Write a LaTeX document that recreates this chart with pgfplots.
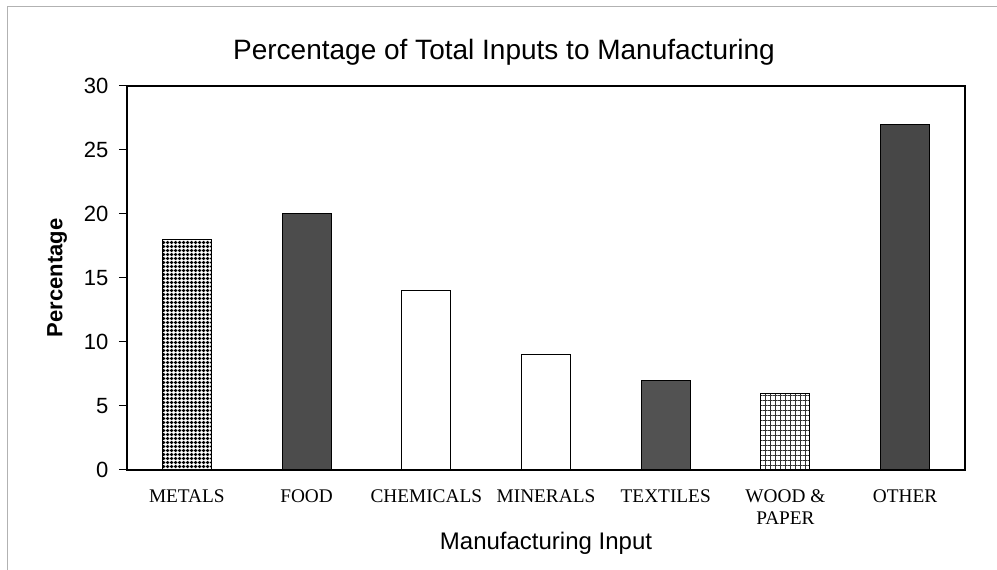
\documentclass[border=0pt]{standalone}
\usepackage{pgfplots}
\pgfplotsset{compat=1.18}
\usepackage{fontspec}
\setmainfont{Liberation Sans}
\newfontfamily\catfont{Liberation Serif}
\usetikzlibrary{patterns.meta}

\pgfplotsset{
  onebar/.style={bar shift=0pt, draw=black, line width=1pt},
}

\begin{document}
\begin{tikzpicture}
\useasboundingbox (0pt,0pt) rectangle (997pt,570pt);
% scan frame
\draw[gray!60, line width=0.8pt] (7pt,0pt) -- (7pt,564pt) -- (997pt,564pt);

\begin{axis}[
  at={(127pt,100pt)}, anchor=south west,
  width=838pt, height=384pt, scale only axis,
  ybar, bar width=0.41,
  xmin=-0.5, xmax=6.5, ymin=0, ymax=30,
  ytick={0,5,10,15,20,25,30},
  xtick={0,1,2,3,4,5,6},
  xticklabels={METALS,FOOD,CHEMICALS,MINERALS,TEXTILES,{WOOD \&\\PAPER},OTHER},
  xticklabel style={font=\catfont\fontsize{19.3}{22}\selectfont, align=center,
    anchor=north, yshift=-8pt},
  x tick style={draw=none},
  ytick pos=left,
  tick align=outside,
  major tick length=8pt,
  y tick style={line width=1pt, black},
  yticklabel style={font=\fontsize{22}{24}\selectfont, xshift=-7pt},
  /pgf/number format/assume math mode=true,
  axis line style={line width=1.2pt},
  title={Percentage of Total Inputs to Manufacturing},
  title style={font=\fontsize{28}{31}\selectfont, yshift=11pt, xshift=-42pt},
  xlabel={Manufacturing Input},
  xlabel style={font=\fontsize{24}{26}\selectfont, yshift=-1pt},
  ylabel={Percentage},
  ylabel style={font=\bfseries\fontsize{22}{24}\selectfont, yshift=10pt},
]
% METALS
\addplot[onebar, fill=white,
  postaction={pattern={Hatch[distance=4pt, line width=1.6pt]}, pattern color=black}]
  coordinates {(0,18)};
% FOOD
\addplot[onebar, fill=black!70] coordinates {(1,20)};
% CHEMICALS
\addplot[onebar, fill=white] coordinates {(2,14)};
% MINERALS
\addplot[onebar, fill=white] coordinates {(3,9)};
% TEXTILES
\addplot[onebar, fill=black!68] coordinates {(4,7)};
% WOOD & PAPER
\addplot[onebar, fill=white,
  postaction={pattern={Hatch[distance=5pt, line width=0.8pt]}, pattern color=black!80}]
  coordinates {(5,6)};
% OTHER
\addplot[onebar, fill=black!72] coordinates {(6,27)};
\end{axis}
\end{tikzpicture}
\end{document}
